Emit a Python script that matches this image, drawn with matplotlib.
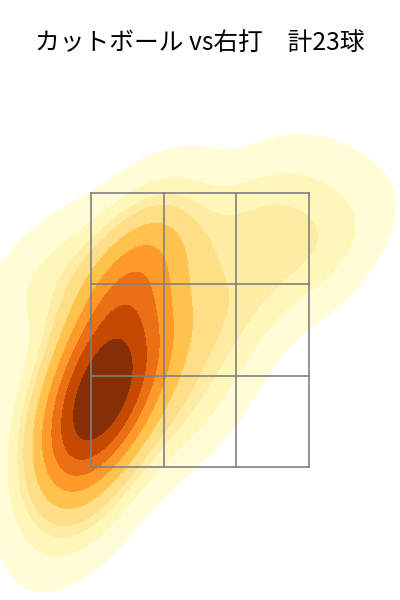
import numpy as np
import pandas as pd
import seaborn as sns
import matplotlib.pyplot as plt

plt.rcParams["font.family"] = ["Noto Sans CJK JP", "DejaVu Sans"]

# pitch locations (ft), catcher's view
plate_x = [-0.76, -0.84, -0.72, -0.88, -0.69, -0.80, -0.72, -0.91, -0.61, -0.95,
           -0.88, -0.65, -0.67, -0.57,
           -0.15, -0.04, -0.30, 0.27, -0.46,
           0.72, 1.03, 0.38, -1.22]
plate_z = [2.06, 1.92, 2.21, 1.77, 2.35, 1.62, 2.54, 1.48, 2.03, 2.14,
           1.11, 2.72, 1.84, 2.94,
           2.57, 1.92, 3.01, 2.57, 3.27,
           3.27, 3.08, 3.38, 2.87]

title = "カットボール vs右打　計23球"

zone_x = [-0.83, -0.83 / 3, 0.83 / 3, 0.83]
zone_z = [1.5, 1.5 + 2 / 3, 1.5 + 4 / 3, 3.5]

df = pd.DataFrame({"plate_x": plate_x, "plate_z": plate_z})

fig = plt.figure(figsize=(4, 6), dpi=100)
ax = fig.add_axes([0, 0, 1, 1])

sns.kdeplot(data=df, x="plate_x", y="plate_z", fill=True, cmap="YlOrBr",
            levels=10, thresh=0.05, ax=ax)

# strike zone grid
for zx in zone_x:
    ax.plot([zx, zx], [zone_z[0], zone_z[-1]], color="gray", lw=1.2)
for zz in zone_z:
    ax.plot([zone_x[0], zone_x[-1]], [zz, zz], color="gray", lw=1.2)

ax.set_xlim(-1.523, 1.523)
ax.set_ylim(0.529, 4.909)
ax.axis("off")

fig.text(0.5, 1 - 43 / 600, title, ha="center", va="center", fontsize=17.8)

plt.savefig("out.png", dpi=100)
